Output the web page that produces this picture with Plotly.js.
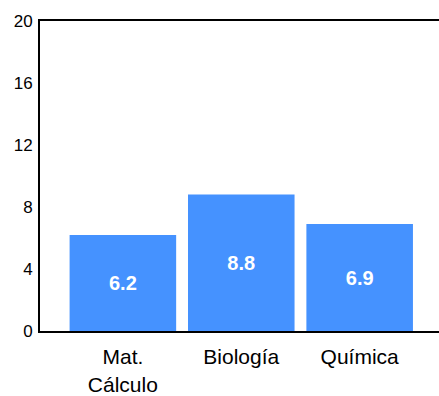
<!DOCTYPE html>
<html><head><meta charset="utf-8">
<script src="https://cdn.plot.ly/plotly-3.0.1.min.js"></script>
<style>html,body{margin:0;padding:0;background:#fff}</style>
</head><body>
<div id="chart" style="width:439px;height:396px"></div>
<script>
var categories = ["Mat.<br>Cálculo", "Biología", "Química"];
var values = [6.2, 8.8, 6.9];
var valueLabels = ["6.2", "8.8", "6.9"];
var yTicks = [0, 4, 8, 12, 16, 20];

var trace = {
  type: "bar",
  x: categories,
  y: values,
  text: valueLabels,
  textposition: "inside",
  insidetextanchor: "middle",
  textfont: {family: "Liberation Sans, Arial, sans-serif", size: 20, color: "#ffffff", weight: "bold"},
  marker: {color: "#4592ff"},
  width: 0.9,
  hoverinfo: "none"
};
var layout = {
  width: 439, height: 396,
  margin: {l: 40, r: 0, t: 21, b: 65},
  paper_bgcolor: "#fff", plot_bgcolor: "#fff",
  showlegend: false,
  font: {family: "Liberation Sans, Arial, sans-serif", size: 16, color: "#000"},
  xaxis: {
    type: "category",
    range: [-0.7, 2.67],
    showline: true, linecolor: "#000", linewidth: 2, mirror: true,
    showgrid: false, zeroline: false, ticks: "",
    ticklabelstandoff: 6,
    tickfont: {size: 21, color: "#000"}
  },
  yaxis: {
    range: [0, 20],
    tickvals: yTicks,
    showline: true, linecolor: "#000", linewidth: 2, mirror: true,
    showgrid: false, zeroline: false, ticks: "",
    ticklabelstandoff: 2,
    tickfont: {size: 17, color: "#000"}
  }
};
Plotly.newPlot("chart", [trace], layout, {staticPlot: true});
</script>
</body></html>
